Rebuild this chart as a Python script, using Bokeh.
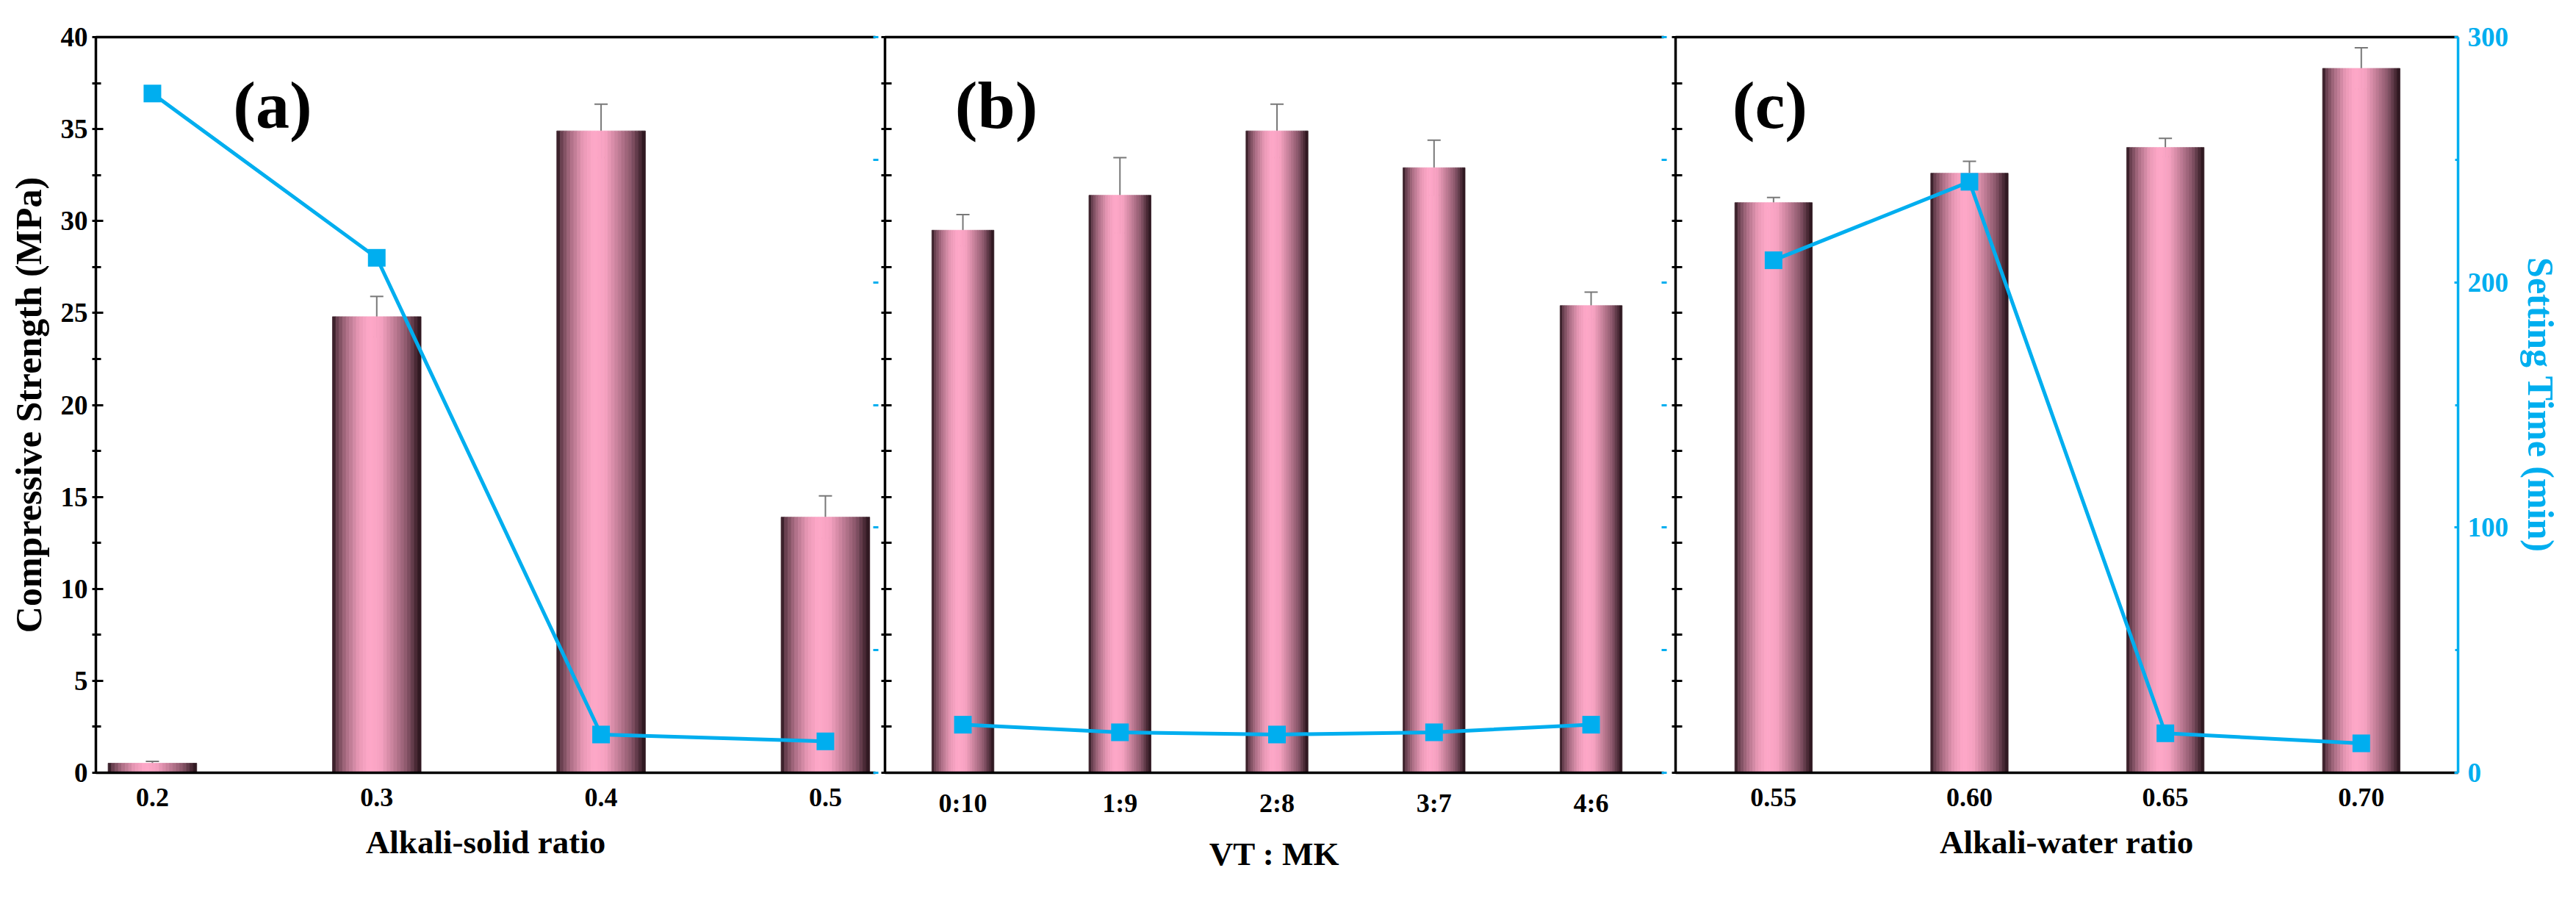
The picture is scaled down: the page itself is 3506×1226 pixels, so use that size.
import numpy as np
from bokeh.plotting import figure
from bokeh.models import (Range1d, LinearAxis, FixedTicker, ColumnDataSource,
                          Whisker, TeeHead, Label)
from bokeh.layouts import row
from bokeh.embed import file_html
from bokeh.resources import INLINE

# ---------------- data ----------------
a_labels = ["0.2", "0.3", "0.4", "0.5"]
a_strength = [0.52, 24.8, 34.9, 13.9]
a_err = [0.1, 1.1, 1.45, 1.15]
a_time = [277, 210, 15.6, 12.8]

b_labels = ["0:10", "1:9", "2:8", "3:7", "4:6"]
b_strength = [29.5, 31.4, 34.9, 32.9, 25.4]
b_err = [0.85, 2.05, 1.45, 1.5, 0.73]
b_time = [19.6, 16.5, 15.6, 16.5, 19.6]

c_labels = ["0.55", "0.60", "0.65", "0.70"]
c_strength = [31.0, 32.6, 34.0, 38.3]
c_err = [0.28, 0.65, 0.5, 1.12]
c_time = [209, 241, 16.1, 12.0]

strength_ticks = [0, 5, 10, 15, 20, 25, 30, 35, 40]
strength_minor = [2.5, 7.5, 12.5, 17.5, 22.5, 27.5, 32.5, 37.5]
time_ticks = [0, 100, 200, 300]
time_minor = [50, 150, 250]
time_all = [0, 50, 100, 150, 200, 250, 300]

# ---------------- style ----------------
FONT = "Liberation Serif"
CYAN = "#00AEEF"
BLACK = "#000000"
ERR = "#787878"
DARK = np.array([36, 16, 24])
LIGHT = np.array([255, 168, 200])
PROF_S = [0, .05, .15, .3, .42, .55, .7, .85, .95, 1]
PROF_T = [0, .3, .6, .9, 1, .96, .72, .45, .15, 0]
NSTRIP = 26
BAR_W = 0.395


def strip_source(vals):
    xs, tops, cols = [], [], []
    for i, v in enumerate(vals):
        for k in range(NSTRIP):
            s = (k + 0.5) / NSTRIP
            t = float(np.interp(s, PROF_S, PROF_T))
            c = (DARK + t * (LIGHT - DARK)).round().astype(int)
            xs.append(i - BAR_W / 2 + (k + 0.5) * BAR_W / NSTRIP)
            tops.append(v)
            cols.append("#%02x%02x%02x" % tuple(c))
    return ColumnDataSource(dict(x=xs, top=tops, color=cols))


def style_left(ax, labels_on=True):
    ax.axis_line_color = BLACK
    ax.axis_line_width = 3.5
    ax.major_tick_line_width = 3
    ax.minor_tick_line_width = 3
    ax.major_tick_line_color = BLACK
    ax.minor_tick_line_color = BLACK
    if labels_on:
        ax.ticker = FixedTicker(ticks=strength_ticks, minor_ticks=strength_minor)
        ax.major_tick_in = 10
        ax.major_tick_out = 5
        ax.minor_tick_in = 7
        ax.minor_tick_out = 5
        ax.major_label_text_font = FONT
        ax.major_label_text_font_style = "bold"
        ax.major_label_text_font_size = "37px"
        ax.major_label_text_color = BLACK
        ax.major_label_standoff = 6
    else:
        # tick marks only (drawn as minor ticks, so no tick labels exist)
        ax.ticker = FixedTicker(ticks=[], minor_ticks=strength_ticks + strength_minor)
        ax.major_tick_in = 0
        ax.major_tick_out = 0
        ax.minor_tick_in = 9
        ax.minor_tick_out = 5
        ax.major_label_standoff = 0


def line_only_axis(ax, color, line=True, ticks=None):
    ax.axis_line_color = color if line else None
    ax.axis_line_width = 3.5
    ax.major_tick_line_color = None
    ax.major_tick_in = 0
    ax.major_tick_out = 0
    ax.major_label_standoff = 0
    if ticks is None:
        ax.ticker = FixedTicker(ticks=[])
        ax.minor_tick_line_color = None
        ax.minor_tick_in = 0
        ax.minor_tick_out = 0
    else:
        ax.ticker = FixedTicker(ticks=[], minor_ticks=ticks)
        ax.minor_tick_line_color = color
        ax.minor_tick_line_width = 3
        ax.minor_tick_in = 3
        ax.minor_tick_out = 4


def make_panel(labels, strength, err, time, xr, xlabel, tag, tag_x,
               width, bl, br, bt, bb, height, ylabel=None, right_main=False):
    p = figure(width=width, height=height, x_range=Range1d(*xr),
               y_range=Range1d(0, 40), output_backend="svg",
               toolbar_location=None, min_border_left=bl, min_border_right=br,
               min_border_top=bt, min_border_bottom=bb)
    p.extra_y_ranges = {"t": Range1d(0, 300)}
    p.grid.visible = False
    p.outline_line_color = None
    p.background_fill_color = "white"
    p.border_fill_color = "white"

    # left axis
    yax = p.yaxis[0]
    style_left(yax, labels_on=ylabel is not None)
    if ylabel is not None:
        yax.axis_label = ylabel
        yax.axis_label_text_font = FONT
        yax.axis_label_text_font_style = "bold"
        yax.axis_label_text_font_size = "50px"
        yax.axis_label_text_color = BLACK
        yax.axis_label_standoff = 13

    # bottom axis
    xax = p.xaxis[0]
    xax.ticker = FixedTicker(ticks=list(range(len(labels))))
    xax.major_label_overrides = {i: lab for i, lab in enumerate(labels)}
    xax.axis_line_color = BLACK
    xax.axis_line_width = 3.5
    xax.major_tick_line_color = None
    xax.minor_tick_line_color = None
    xax.major_tick_in = 0
    xax.major_tick_out = 0
    xax.minor_tick_in = 0
    xax.minor_tick_out = 0
    xax.major_label_text_font = FONT
    xax.major_label_text_font_style = "bold"
    xax.major_label_text_font_size = "36px"
    xax.major_label_text_color = BLACK
    xax.major_label_standoff = 21
    xax.axis_label = xlabel
    xax.axis_label_text_font = FONT
    xax.axis_label_text_font_style = "bold"
    xax.axis_label_text_font_size = "45px"
    xax.axis_label_text_color = BLACK
    xax.axis_label_standoff = 21

    # top frame line
    top = LinearAxis()
    line_only_axis(top, BLACK)
    p.add_layout(top, "above")

    # right axis (setting time)
    rax = LinearAxis(y_range_name="t")
    if right_main:
        rax.ticker = FixedTicker(ticks=time_ticks, minor_ticks=time_minor)
        rax.axis_line_color = CYAN
        rax.axis_line_width = 3.5
        rax.major_tick_line_color = CYAN
        rax.major_tick_line_width = 3
        rax.minor_tick_line_color = CYAN
        rax.minor_tick_line_width = 3
        rax.major_tick_in = 5
        rax.major_tick_out = 0
        rax.minor_tick_in = 4
        rax.minor_tick_out = 0
        rax.major_label_text_font = FONT
        rax.major_label_text_font_style = "bold"
        rax.major_label_text_font_size = "37px"
        rax.major_label_text_color = CYAN
        rax.major_label_standoff = 13
        rax.axis_label = "Setting Time (min)"
        rax.axis_label_text_font = FONT
        rax.axis_label_text_font_style = "bold"
        rax.axis_label_text_font_size = "50px"
        rax.axis_label_text_color = CYAN
        rax.axis_label_standoff = 13
    else:
        line_only_axis(rax, CYAN, line=False, ticks=time_all)
    p.add_layout(rax, "right")

    # gradient bars
    p.vbar(x="x", top="top", bottom=0, width=BAR_W / NSTRIP, source=strip_source(strength),
           fill_color="color", line_color="color", line_width=0.8)

    # error bars
    idx = list(range(len(strength)))
    es = ColumnDataSource(dict(x=idx,
                               up=[v + e for v, e in zip(strength, err)],
                               lo=[v - e for v, e in zip(strength, err)]))
    wk = Whisker(base="x", upper="up", lower="lo", source=es,
                 line_color=ERR, line_width=2,
                 upper_head=TeeHead(size=18, line_color=ERR, line_width=2),
                 lower_head=TeeHead(size=18, line_color=ERR, line_width=2))
    p.add_layout(wk)

    # setting time line
    ts = ColumnDataSource(dict(x=idx, t=time))
    p.line("x", "t", source=ts, y_range_name="t", line_color=CYAN, line_width=5,
           level="overlay")
    p.scatter("x", "t", source=ts, y_range_name="t", marker="square", size=24,
              fill_color=CYAN, line_color=None, level="overlay")

    p.add_layout(Label(x=tag_x, y=36.3, text=tag, text_font=FONT,
                       text_font_style="bold", text_font_size="92px",
                       text_baseline="middle", text_align="left",
                       text_color=BLACK))
    return p


pa = make_panel(a_labels, a_strength, a_err, a_time, (-0.252, 3.223),
                "Alkali-solid ratio", "(a)", 0.36,
                width=1197, bl=130, br=6, bt=50, bb=150, height=1205,
                ylabel="Compressive Strength (MPa)")
pb = make_panel(b_labels, b_strength, b_err, b_time, (-0.496, 4.463),
                "VT : MK", "(b)", -0.05,
                width=1075, bl=7, br=8, bt=50, bb=150, height=1205)
pc = make_panel(c_labels, c_strength, c_err, c_time, (-0.5, 3.494),
                "Alkali-water ratio", "(c)", -0.21,
                width=1217, bl=8, br=142, bt=45, bb=154, height=1205,
                right_main=True)

layout = row(pa, pb, pc)
open("out.html", "w").write(file_html(layout, INLINE))
